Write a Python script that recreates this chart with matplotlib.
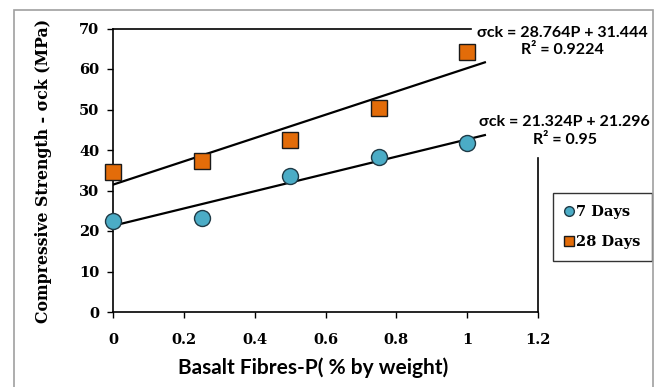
import numpy as np
import matplotlib.pyplot as plt
from matplotlib.patches import Rectangle
from matplotlib.lines import Line2D

# -- DATA
fibre = [0, 0.25, 0.5, 0.75, 1.0]
days7 = [22.5, 23.3, 33.7, 38.3, 41.8]
days28 = [34.6, 37.4, 42.5, 50.3, 64.1]

# trend line coefficients (slope, intercept) printed on the chart
fit7 = (21.324, 21.296)
fit28 = (28.764, 31.444)
eq7 = ['σck = 21.324P + 21.296', 'R² = 0.95']
eq28 = ['σck = 28.764P + 31.444', 'R² = 0.9224']

xticks = [0, 0.2, 0.4, 0.6, 0.8, 1, 1.2]
xticklabels = ['0', '0.2', '0.4', '0.6', '0.8', '1', '1.2']
yticks = [0, 10, 20, 30, 40, 50, 60, 70]

serif = 'DejaVu Serif'
sans = 'Lato'


def main():
    fig = plt.figure(figsize=(6.59, 3.87), dpi=100)
    # -- OUTER GREY FRAME
    fig.patches.append(Rectangle((14 / 659, -0.1), 639 / 659, 1.1 - 10 / 387,
                                 transform=fig.transFigure, fill=False,
                                 edgecolor='#a0a0a0', lw=1.2))
    ax = fig.add_axes([113 / 659, 1 - 312 / 387, 425 / 659, 283.5 / 387])

    # -- TREND LINES
    xl = np.array([0, 1.05])
    ax.plot(xl, fit28[0] * xl + fit28[1], color='black', lw=1.6, zorder=2)
    ax.plot(xl, fit7[0] * xl + fit7[1], color='black', lw=1.6, zorder=2)

    # -- MARKERS
    ax.plot(fibre, days7, 'o', ms=11.5, mfc='#4bacc6', mec='#1f3a46', mew=1,
            zorder=3, clip_on=False)
    ax.plot(fibre, days28, 's', ms=11.5, mfc='#e36c09', mec='#1a1a1a', mew=1,
            zorder=3, clip_on=False)

    ax.set_xlim(0, 1.2)
    ax.set_ylim(0, 70)
    ax.spines['top'].set_bounds(0, 1.01)
    ax.spines['right'].set_bounds(0, 38)
    for s in ax.spines.values():
        s.set_linewidth(1.2)
    ax.set_xticks(xticks)
    ax.set_xticklabels(xticklabels)
    ax.set_yticks(yticks)
    ax.tick_params(axis='x', direction='out', length=4, width=1, pad=11)
    ax.tick_params(axis='y', direction='out', length=4, width=1, pad=6)
    for lab in ax.get_xticklabels() + ax.get_yticklabels():
        lab.set_fontfamily(serif)
        lab.set_fontweight('bold')
        lab.set_fontsize(10.5)

    ax.set_xlabel('Basalt Fibres-P( % by weight)', family=sans,
                  fontweight='bold', fontsize=15)
    ax.xaxis.set_label_coords((313 - 113) / 425, -(357 - 312) / 283.5)
    ax.set_ylabel('Compressive Strength - σck (MPa)', family=serif,
                  fontweight='bold', fontsize=11.3)
    ax.yaxis.set_label_coords(-(113 - 52) / 425, (312 - 171) / 283.5)

    # -- EQUATION LABELS
    ax.text(1.27, 66.8, eq28[0] + '\n' + eq28[1], family=sans, fontweight='bold',
            fontsize=11.5, ha='center', va='center', linespacing=1.35)
    ax.text(1.275, 44.7, eq7[0] + '\n' + eq7[1], family=sans, fontweight='bold',
            fontsize=11.5, ha='center', va='center', linespacing=1.35)

    # -- LEGEND
    handles = [Line2D([], [], marker='o', ls='none', ms=7, mfc='#4bacc6',
                      mec='#1f3a46'),
               Line2D([], [], marker='s', ls='none', ms=7, mfc='#e36c09',
                      mec='#1a1a1a')]
    ax.legend(handles, ['7 Days', '28 Days'], loc='upper left',
              bbox_to_anchor=(553 / 659, 1 - 193 / 387),
              bbox_transform=fig.transFigure, frameon=True, fancybox=False,
              edgecolor='black', handlelength=0.6, handletextpad=0.2,
              labelspacing=1.15, borderpad=0.8, borderaxespad=0,
              prop={'family': serif, 'weight': 'bold', 'size': 10.5})

    fig.savefig('out.png', dpi=100)


main()
